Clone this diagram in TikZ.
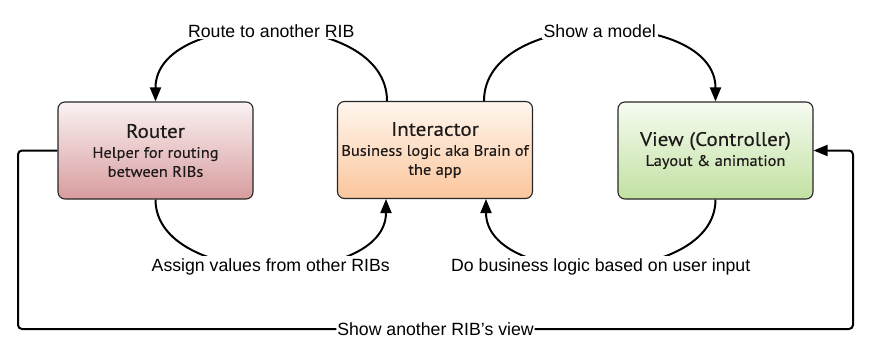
\documentclass[tikz,border=0pt]{standalone}
\usepackage{fontspec}
\setmainfont{Liberation Sans}
\newfontfamily\boxfont[FakeStretch=1.08,FakeBold=0.3]{PT Sans}
\usetikzlibrary{arrows.meta}

\definecolor{routerTop}{RGB}{250,242,242}
\definecolor{routerBot}{RGB}{216,156,158}
\definecolor{interTop}{RGB}{255,246,238}
\definecolor{interBot}{RGB}{251,198,156}
\definecolor{viewTop}{RGB}{246,251,241}
\definecolor{viewBot}{RGB}{194,225,162}
\definecolor{boxText}{RGB}{30,26,26}

\newcommand{\boxhead}[1]{{\fontsize{19.5}{20}\selectfont #1}}

\begin{document}
\begin{tikzpicture}[x=1pt,y=-1pt,
  box/.style={draw=black!85, line width=1.1pt, rounded corners=7pt,
    minimum width=195pt, minimum height=97pt, align=center,
    text=boxText, inner sep=2pt,
    font=\boxfont\fontsize{15.2}{19}\selectfont},
  flow/.style={draw=black, line width=2pt,
    -{Triangle[length=14pt,width=11pt]}},
  lbl/.style={fill=white, inner sep=2pt, text=black,
    font=\fontsize{17.7}{20}\selectfont}
]
\useasboundingbox (0,0) rectangle (871,345);

% the three RIB components
\node[box, top color=routerTop, bottom color=routerBot] (router) at (155.5,150.5)
  {\boxhead{Router}\\[1pt]Helper for routing\\between RIBs};
\node[box, top color=interTop, bottom color=interBot] (inter) at (435,150)
  {\boxhead{Interactor}\\[1pt]Business logic aka Brain of\\the app};
\node[box, top color=viewTop, bottom color=viewBot] (view) at (715.5,150.5)
  {\boxhead{View (Controller)}\\[1pt]Layout \& animation};

% curved flows above the boxes
\draw[flow] ([xshift=-48pt]inter.north) .. controls +(0,-94) and +(0,-94) .. (router.north)
  node[midway, lbl] {Route to another RIB};
\draw[flow] ([xshift=49pt]inter.north) .. controls +(0,-94) and +(0,-94) .. (view.north)
  node[midway, lbl] {Show a model};

% curved flows below the boxes
\draw[flow] (router.south) .. controls +(0,89) and +(0,90) .. ([xshift=-49pt]inter.south)
  node[midway, lbl] {Assign values from other RIBs};
\draw[flow] (view.south) .. controls +(0,89) and +(0,90) .. ([xshift=51pt]inter.south)
  node[midway, lbl] {Do business logic based on user input};

% loop from the router round to the view
\draw[flow, rounded corners=4pt] (router.west) -- (18,150.5) -- (18,329)
  -- (853,329) node[midway, lbl, inner sep=1pt] {Show another RIB's view}
  -- (853,150.5) -- (view.east);
\end{tikzpicture}
\end{document}
